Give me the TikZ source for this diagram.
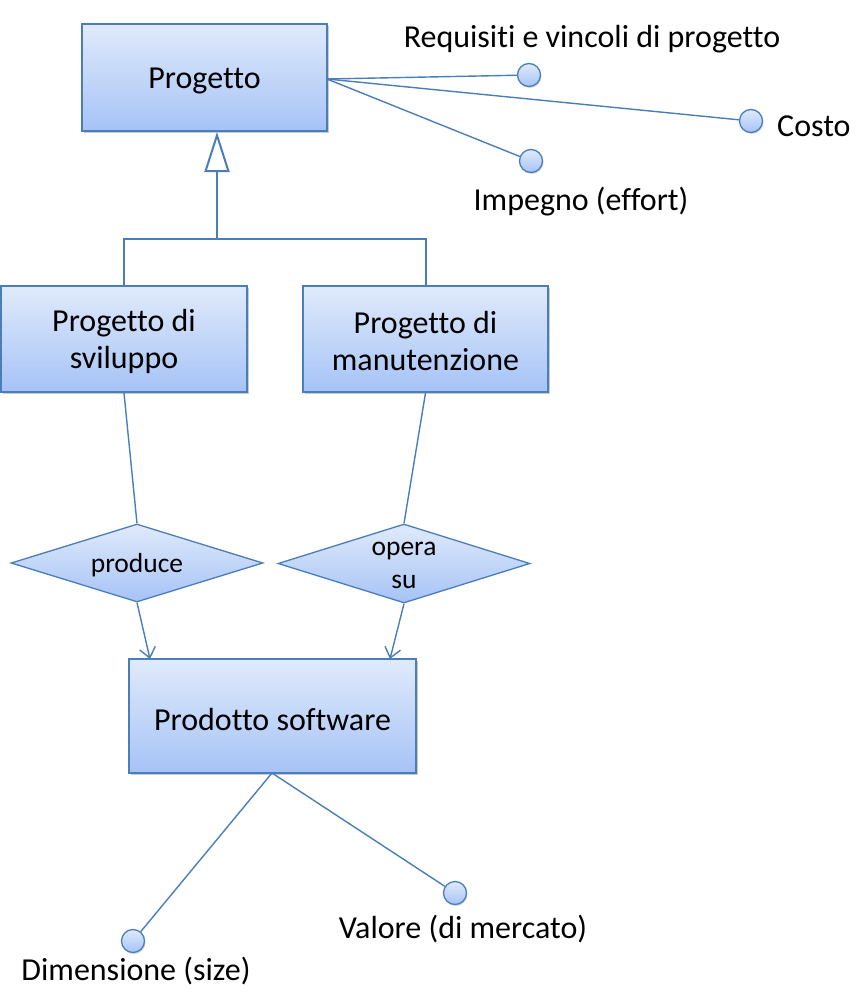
\documentclass[tikz,border=0pt]{standalone}
\usepackage{fontspec}
\setmainfont[Ligatures=NoCommon]{Carlito}
\usetikzlibrary{shapes.geometric,arrows.meta,shadows}
\definecolor{edge}{HTML}{4A7EBB}
\definecolor{topc}{HTML}{E0EAFB}
\definecolor{botc}{HTML}{A6C3F6}
\tikzset{
  ent/.style={draw=edge, line width=2pt, top color=topc, bottom color=botc, inner sep=0pt,
    align=center, font=\fontsize{32}{37}\selectfont,
    drop shadow={shadow xshift=2pt, shadow yshift=-2pt, fill=black!35, opacity=0.6}},
  enttext/.style={align=center, inner sep=0pt, font=\fontsize{32}{37}\selectfont},
  rel/.style={diamond, draw=edge, line width=1.3pt, top color=topc, bottom color=botc, inner sep=0pt},
  reltext/.style={align=center, inner sep=0pt, font=\fontsize{27.5}{33}\selectfont},
  attr/.style={circle, draw=edge, line width=1.3pt, top color=topc, bottom color=botc, minimum size=23pt, inner sep=0pt,
    drop shadow={shadow xshift=1pt, shadow yshift=-1.5pt, fill=black!30, opacity=0.5}},
  lbl/.style={font=\fontsize{32}{37}\selectfont, inner sep=0pt},
  conn/.style={draw=edge, line width=1.4pt},
}
\begin{document}
\begin{tikzpicture}[x=1pt,y=-1pt]
\useasboundingbox (0,0) rectangle (865,999);
% entities
\node[ent, minimum width=245pt, minimum height=107pt] (prog) at (204.5,77.5) {};
\node[enttext] (progt) at (204.5,81) {Progetto};
\node[ent, minimum width=246pt, minimum height=106pt] (sv) at (124,339) {};
\node[enttext] (svt) at (124,341.5) {Progetto di\\sviluppo};
\node[ent, minimum width=245pt, minimum height=106pt] (mn) at (425.5,339) {};
\node[enttext] (mnt) at (425.5,341.5) {Progetto di\\manutenzione};
\node[ent, minimum width=287pt, minimum height=114pt] (ps) at (272.5,716) {};
\node[enttext] (pst) at (272.5,719) {Prodotto software};
% relationships
\node[rel, minimum width=252pt, minimum height=78pt] (pr) at (137,563) {};
\node[reltext] (prt) at (137,565) {produce};
\node[rel, minimum width=252pt, minimum height=79pt] (op) at (404,563.5) {};
\node[reltext] (opt) at (404,565.5) {opera\\su};
% attributes
\node[attr] (req) at (529,75) {};
\node[attr] (cos) at (751,121) {};
\node[attr] (imp) at (531,161) {};
\node[attr] (dim) at (133,941) {};
\node[attr] (val) at (455,893) {};
% labels
\node[lbl] (lreq) at (592,39) {Requisiti e vincoli di progetto};
\node[lbl, anchor=west] (lcos) at (777,126) {Costo};
\node[lbl] (limp) at (581,202) {Impegno (effort)};
\node[lbl] (ldim) at (136,971) {Dimensione (size)};
\node[lbl] (lval) at (463,929) {Valore (di mercato)};
% generalization
\coordinate (j) at (217,239);
\draw[conn, line width=2pt] (sv.north) |- (j) -| (mn.north);
\draw[conn, line width=2pt, -{Triangle[open, length=40pt, width=25pt, line width=2pt]}] (j) -- (j |- prog.south);
% attribute links
\coordinate (pa) at (327,79);
\draw[conn] (pa) -- (req);
\draw[conn] (pa) -- (cos);
\draw[conn] (pa) -- (imp);
\coordinate (pb) at (272,773);
\draw[conn] (pb) -- (dim);
\draw[conn] (pb) -- (val);
% relationship links
\coordinate (ta) at (150,659);
\coordinate (tb) at (390,659);
\draw[conn] (sv.south) -- (pr.north);
\draw[conn] (mn.south) -- (op.north);
\draw[conn, -{Straight Barb[length=10pt, width=16pt, line width=1.4pt]}] (pr.south) -- (ta);
\draw[conn, -{Straight Barb[length=10pt, width=16pt, line width=1.4pt]}] (op.south) -- (tb);
\end{tikzpicture}
\end{document}
